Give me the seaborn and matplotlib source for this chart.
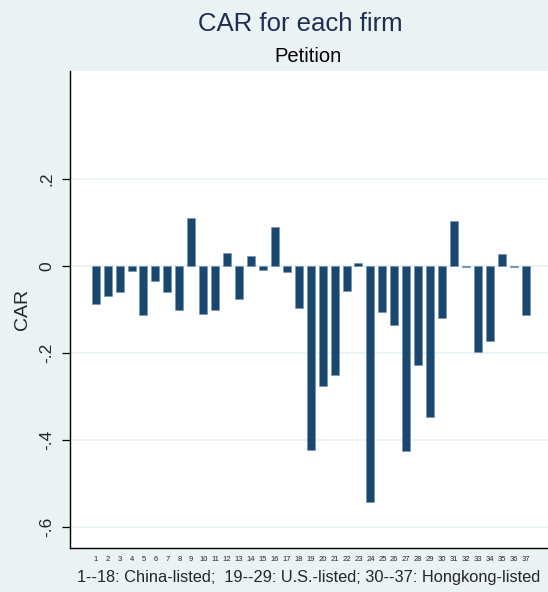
import matplotlib
matplotlib.use("Agg")
import matplotlib.pyplot as plt
import numpy as np
import pandas as pd
import seaborn as sns

# firm ids and cumulative abnormal returns
firms = [str(i) for i in range(1, 38)]
car = [
    -0.087, -0.069, -0.060, -0.011, -0.113, -0.035, -0.060, -0.102, 0.110,
    -0.110, -0.100, 0.030, -0.076, 0.022, -0.010, 0.090, -0.013, -0.097,
    -0.423, -0.275, -0.251, -0.058, 0.006, -0.543, -0.105, -0.136, -0.426,
    -0.228, -0.346, -0.119, 0.103, -0.002, -0.197, -0.172, 0.027, -0.002,
    -0.112,
]
yticks = [0.2, 0.0, -0.2, -0.4, -0.6]
ytick_labels = [".2", "0", "-.2", "-.4", "-.6"]

df = pd.DataFrame({"firm": firms, "CAR": car})

sns.set_style("white")
plt.rcParams["font.family"] = ["Liberation Sans", "DejaVu Sans"]

bg = "#EAF2F3"
fig = plt.figure(figsize=(5.48, 5.92), dpi=100, facecolor=bg)
ax = fig.add_axes([70 / 548, 1 - 548 / 592, 1 - 70 / 548, (548 - 71) / 592])
ax.set_facecolor("white")

sns.barplot(data=df, x="firm", y="CAR", order=firms, color="#1A476F",
            width=0.67, saturation=1, edgecolor="#6F8FAF", linewidth=0.4,
            ax=ax, zorder=3)

ax.set_xlim(-2.15, 37.87)
ax.set_ylim(-0.648, 0.448)
ax.set_yticks(yticks)
ax.set_yticklabels(ytick_labels, rotation=90, va="center", fontsize=12.5)
ax.grid(axis="y", color=bg, linewidth=1.3, zorder=0)
ax.tick_params(axis="y", length=6, width=0.9, color="black", pad=5, left=True)
ax.tick_params(axis="x", length=0, labelsize=5.5, pad=6)

for side in ["top", "right"]:
    ax.spines[side].set_visible(False)
for side in ["left", "bottom"]:
    ax.spines[side].set_color("black")
    ax.spines[side].set_linewidth(1.0)

ax.set_ylabel("CAR", fontsize=14, labelpad=6)
ax.set_xlabel("1--18: China-listed;  19--29: U.S.-listed; 30--37: Hongkong-listed",
              fontsize=11.8, labelpad=5)

fig.text(300 / 548, 1 - 24 / 592, "CAR for each firm", ha="center", va="center",
         fontsize=18.5, color="#1E2D53")
fig.text(308 / 548, 1 - 56 / 592, "Petition", ha="center", va="center",
         fontsize=14.5, color="black")

fig.savefig("out.png", dpi=100, facecolor=bg)
